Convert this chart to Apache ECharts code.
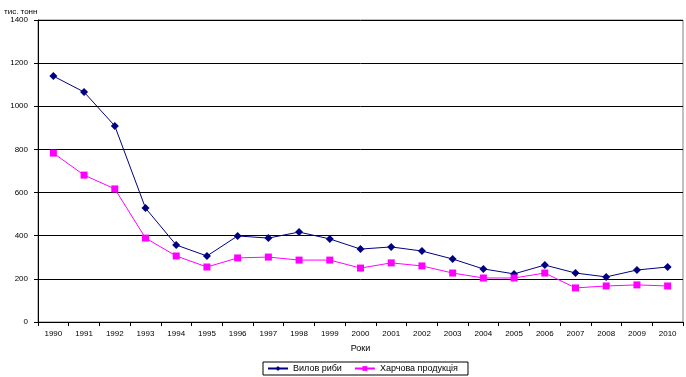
<!DOCTYPE html>
<html>
<head>
<meta charset="utf-8">
<script src="https://cdn.jsdelivr.net/npm/echarts@6/dist/echarts.min.js"></script>
<style>
  html, body { margin: 0; padding: 0; background: #fff; }
  #chart { width: 686px; height: 377px; }
</style>
</head>
<body>
<div id="chart"></div>
<script>
const years = ['1990', '1991', '1992', '1993', '1994', '1995', '1996', '1997', '1998', '1999', '2000',
  '2001', '2002', '2003', '2004', '2005', '2006', '2007', '2008', '2009', '2010'];
// Вилов риби
const catchData = [1140, 1066, 909, 528, 357, 306, 399, 389, 417, 385, 338,
  348, 329, 292, 246, 223, 264, 227, 209, 241, 255];
// Харчова продукція
const foodData = [783, 681, 617, 389, 306, 255, 297, 301, 287, 287, 250,
  274, 260, 227, 204, 204, 227, 158, 167, 172, 167];

const myChart = echarts.init(document.getElementById('chart'));
const font = 'Liberation Sans';

const option = {
  animation: false,
  textStyle: { fontFamily: font, fontStyle: 'normal' },
  grid: {
    left: 38,
    right: 3,
    top: 20,
    bottom: 55,
    show: true,
    borderColor: '#808080',
    borderWidth: 1,
  },
  legend: {
    bottom: 2,
    left: 263,
    itemGap: 12,
    itemWidth: 20,
    itemHeight: 6,
    padding: [2, 10, 2, 4],
    borderColor: '#000',
    borderWidth: 1,
    textStyle: { fontSize: 9, color: '#000', fontFamily: font, fontStyle: 'normal' },
    data: ['Вилов риби', 'Харчова продукція'],
  },
  xAxis: {
    type: 'category',
    boundaryGap: true,
    data: years,
    name: 'Роки',
    nameLocation: 'middle',
    nameGap: 22,
    nameTextStyle: { fontSize: 9, color: '#000', fontStyle: 'normal' },
    axisLine: { lineStyle: { color: '#000', width: 1 } },
    axisTick: { show: true, length: 4, lineStyle: { color: '#000' } },
    axisLabel: { fontSize: 8, color: '#000', margin: 8 },
  },
  yAxis: {
    type: 'value',
    min: 0,
    max: 1400,
    interval: 200,
    name: 'тис. тонн',
    nameLocation: 'end',
    nameGap: 4,
    nameTextStyle: { fontSize: 8, color: '#000', fontStyle: 'normal', align: 'left', padding: [0, 0, 0, -34] },
    axisLine: { show: true, lineStyle: { color: '#000', width: 1 } },
    axisTick: { show: true, length: 4, lineStyle: { color: '#000' } },
    axisLabel: { fontSize: 8, color: '#000', margin: 10, formatter: (v) => String(v) },
    splitLine: { lineStyle: { color: '#000', width: 1 } },
  },
  series: [
    {
      name: 'Вилов риби',
      type: 'line',
      data: catchData,
      symbol: 'diamond',
      symbolSize: 8,
      itemStyle: { color: '#000080' },
      lineStyle: { color: '#000080', width: 1 },
    },
    {
      name: 'Харчова продукція',
      type: 'line',
      data: foodData,
      symbol: 'rect',
      symbolSize: 7,
      itemStyle: { color: '#FF00FF' },
      lineStyle: { color: '#FF00FF', width: 1 },
    },
  ],
};

myChart.setOption(option);
</script>
</body>
</html>
